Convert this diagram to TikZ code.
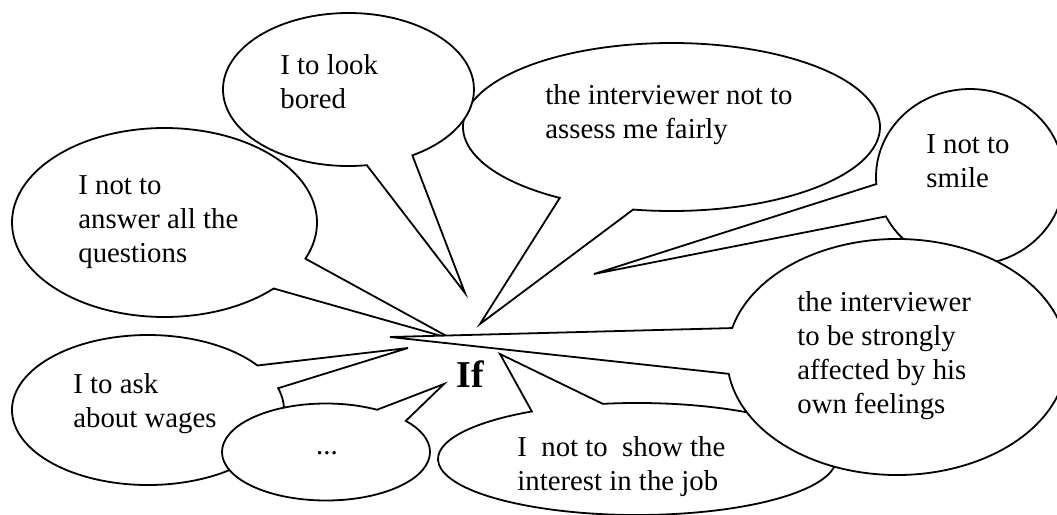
\documentclass[tikz,border=0pt]{standalone}
\usepackage{fontspec}
\setmainfont{Liberation Serif}

\begin{document}
\begin{tikzpicture}[x=0.5pt, y=-0.5pt,
  bubble/.style={draw=black, fill=white, line width=0.9pt},
  said/.style={anchor=base west, align=left, inner sep=0pt, font=\fontsize{14.4}{17}\selectfont}]
\useasboundingbox (0,0) rectangle (1057,515);

% centres of the ellipses
\coordinate (C1) at (348.5,89.5);
\coordinate (C2) at (671.5,127);
\coordinate (C3) at (164.5,222.5);
\coordinate (C4) at (148,410);
\coordinate (C5) at (326,452);
\coordinate (C6) at (637,459);
\coordinate (C7) at (897,357);
\coordinate (C8) at (970,177);

% tips of the tails
\coordinate (T1) at (465,293);
\coordinate (T2) at (480,324);
\coordinate (T3) at (452,339);
\coordinate (T4) at (408,348);
\coordinate (T5) at (444,384);
\coordinate (T6) at (500,354);
\coordinate (T7) at (390,337);
\coordinate (T8) at (594,274);

% Draw the bubbles, the ones behind first
\filldraw[bubble] (C2) ++(122.4:208.5 and 84) arc[start angle=122.4, end angle=460.6, x radius=208.5, y radius=84] -- (T2) -- cycle;
\filldraw[bubble] (C1) ++(81.6:125.5 and 76.5) arc[start angle=81.6, end angle=419.4, x radius=125.5, y radius=76.5] -- (T1) -- cycle;
\filldraw[bubble] (C3) ++(44.3:152.5 and 94.5) arc[start angle=44.3, end angle=382.5, x radius=152.5, y radius=94.5] -- (T3) -- cycle;
\filldraw[bubble] (C4) ++(-16.9:136 and 75) arc[start angle=-16.9, end angle=323.6, x radius=136, y radius=75] -- (T4) -- cycle;
\filldraw[bubble] (C5) ++(-39.9:104 and 48.5) arc[start angle=-39.9, end angle=299.4, x radius=104, y radius=48.5] -- (T5) -- cycle;
\filldraw[bubble] (C8) ++(175.4:94 and 88) arc[start angle=175.4, end angle=513.4, x radius=94, y radius=88] -- (T8) -- cycle;
\filldraw[bubble] (C6) ++(260.1:199 and 56) arc[start angle=260.1, end angle=598.1, x radius=199, y radius=56] -- (T6) -- cycle;
\filldraw[bubble] (C7) ++(194.2:170 and 118) arc[start angle=194.2, end angle=531.8, x radius=170, y radius=118] -- (T7) -- cycle;

% texts (anchored at the baseline of the last line)
\node[said] (bored) at (280,108) {I to look\\bored};
\node[said] (fair) at (545,138) {the interviewer not to\\assess me fairly};
\node[said] (answer) at (78,262) {I not to\\answer all the\\questions};
\node[said] (wages) at (73,427) {I to ask\\about wages};
\node[said, anchor=base] (more) at (327,454) {...};
\node[said] (show) at (517,490) {I\ \ not to\ \ show the\\interest in the job};
\node[said] (smile) at (926,187) {I not to\\smile};
\node[said] (feel) at (797,413) {the interviewer\\to be strongly\\affected by his\\own feelings};

\node[anchor=base, inner sep=0pt, font=\bfseries\fontsize{19}{22}\selectfont] (if) at (470,387) {If};

\end{tikzpicture}
\end{document}
